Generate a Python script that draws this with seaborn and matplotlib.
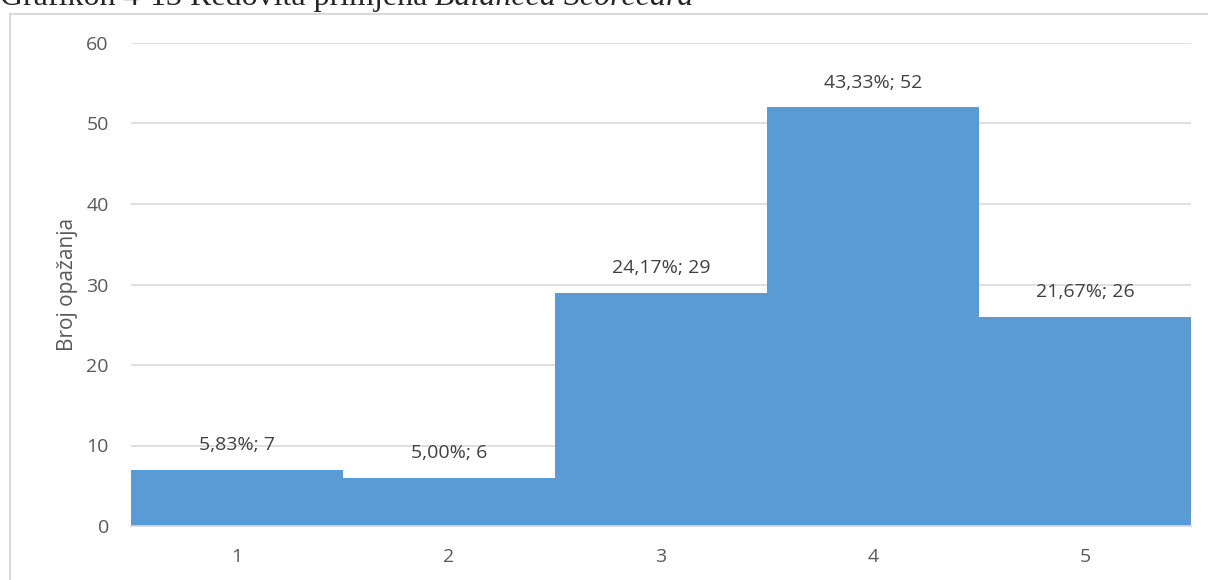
import matplotlib
matplotlib.use("Agg")
import matplotlib.pyplot as plt
import seaborn as sns
import pandas as pd
from matplotlib.patches import Rectangle

# data
ocjene = ["1", "2", "3", "4", "5"]
broj = [7, 6, 29, 52, 26]
postotak = ["5,83%", "5,00%", "24,17%", "43,33%", "21,67%"]

df = pd.DataFrame({"ocjena": ocjene, "broj": broj})

sns.set_style("white")
plt.rcParams["font.family"] = ["Open Sans", "DejaVu Sans"]

fig = plt.figure(figsize=(12.08, 5.8), dpi=100)
ax = fig.add_axes([131 / 1208, 54 / 580, 1060 / 1208, 483 / 580])

sns.barplot(data=df, x="ocjena", y="broj", color="#5B9BD5", width=1.0,
            saturation=1, ax=ax, edgecolor="none")

ax.set_ylim(0, 60)
ax.set_xlim(-0.5, 4.5)
ax.set_yticks(range(0, 61, 10))
ax.yaxis.grid(True, color="#D9D9D9", linewidth=1.2)
ax.set_axisbelow(True)
for s in ["top", "right", "left"]:
    ax.spines[s].set_visible(False)
ax.spines["bottom"].set_color("#D9D9D9")
ax.spines["bottom"].set_linewidth(1.2)
ax.tick_params(axis="both", length=0, labelsize=14, labelcolor="#595959")
ax.tick_params(axis="y", pad=16)
ax.tick_params(axis="x", pad=16)
ax.set_xlabel("")
ax.set_ylabel("Broj opažanja", fontsize=15, color="#595959", labelpad=6)

for i, (b, p) in enumerate(zip(broj, postotak)):
    ax.annotate(f"{p}; {b}", xy=(i, b), xytext=(0, 17.5), textcoords="offset points",
                ha="center", va="center", fontsize=14, color="#404040")

# chart frame
fig.patches.append(Rectangle((10 / 1208, -0.01), 1.02, (580 - 14) / 580 + 0.01,
                             transform=fig.transFigure, fill=False,
                             edgecolor="#D9D9D9", linewidth=1.5))

# caption (cut off at top)
t1 = fig.text(0, (580 - 5) / 580, "Grafikon 4-13 Redovita primjena ",
              family="Liberation Serif", fontsize=23, va="baseline", ha="left")
fig.canvas.draw()
bb = t1.get_window_extent()
fig.text(bb.x1 / fig.bbox.width, (580 - 5) / 580, "Balanced Scorecard",
         family="Liberation Serif", style="italic", fontsize=23,
         va="baseline", ha="left")

fig.savefig("out.png", dpi=100)
